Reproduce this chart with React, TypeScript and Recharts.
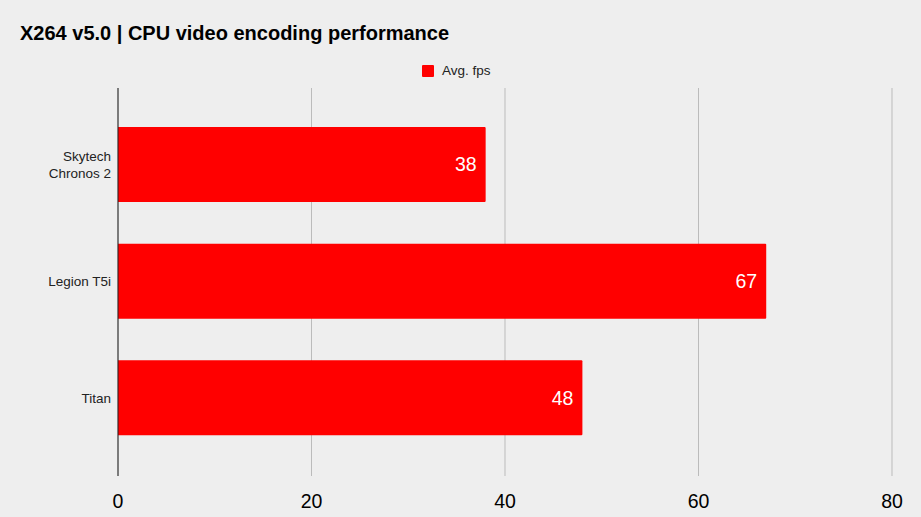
import { BarChart, Bar, XAxis, YAxis, CartesianGrid, LabelList } from 'recharts';

const systems = ['Skytech Chronos 2', 'Legion T5i', 'Titan'];
const avgFps = [38, 67, 48];
const xTicks = [0, 20, 40, 60, 80];

const data = systems.map((name, i) => ({ name, fps: avgFps[i] }));

const FONT = '"Liberation Sans", Arial, sans-serif';

function SystemTick(props: any) {
  const { x, y, payload } = props;
  const words: string[] = payload.value === 'Skytech Chronos 2' ? ['Skytech', 'Chronos 2'] : [payload.value];
  const lineH = 17;
  const start = -((words.length - 1) * lineH) / 2;
  return (
    <text x={x} y={y} textAnchor="end" fill="#222" fontSize={13.5} fontFamily={FONT}>
      {words.map((w, i) => (
        <tspan key={i} x={x} dy={i === 0 ? start + 5 : lineH}>
          {w}
        </tspan>
      ))}
    </text>
  );
}

export default function App() {
  return (
    <div
      style={{
        position: 'absolute',
        left: 0,
        top: 0,
        width: 921,
        height: 517,
        background: '#eeeeee',
        fontFamily: FONT,
      }}
    >
      <div
        style={{
          position: 'absolute',
          left: 20,
          top: 22,
          fontSize: 20,
          fontWeight: 700,
          color: '#000',
        }}
      >
        X264 v5.0 | CPU video encoding performance
      </div>
      <div
        style={{
          position: 'absolute',
          left: 422,
          top: 63,
          display: 'flex',
          alignItems: 'center',
          fontSize: 13.5,
          color: '#222',
        }}
      >
        <span style={{ display: 'inline-block', width: 12, height: 12, background: '#ff0000', marginRight: 8, borderRadius: 1 }} />
        Avg. fps
      </div>
      <BarChart
        width={921}
        height={517}
        data={data}
        layout="vertical"
        margin={{ top: 88, right: 29, bottom: 0, left: 0 }}
        style={{ position: 'absolute', left: 0, top: 0 }}
      >
        <CartesianGrid horizontal={false} stroke="#bbbbbb" strokeWidth={1} />
        <XAxis
          type="number"
          domain={[0, 80]}
          ticks={xTicks}
          axisLine={false}
          tickLine={false}
          height={41}
          tickMargin={12}
          tick={{ fill: '#000', fontSize: 19.5, fontFamily: FONT }}
        />
        <YAxis
          type="category"
          dataKey="name"
          width={118}
          padding={{ top: 18, bottom: 20 }}
          axisLine={{ stroke: '#222', strokeWidth: 1 }}
          tickLine={false}
          tick={<SystemTick />}
          tickMargin={1}
        />
        <Bar dataKey="fps" fill="#ff0000" barSize={75} radius={[0, 1, 1, 0]} isAnimationActive={false}>
          <LabelList
            dataKey="fps"
            position="insideRight"
            offset={9}
            fill="#ffffff"
            fontSize={19.5}
            fontFamily={FONT}
          />
        </Bar>
      </BarChart>
    </div>
  );
}
